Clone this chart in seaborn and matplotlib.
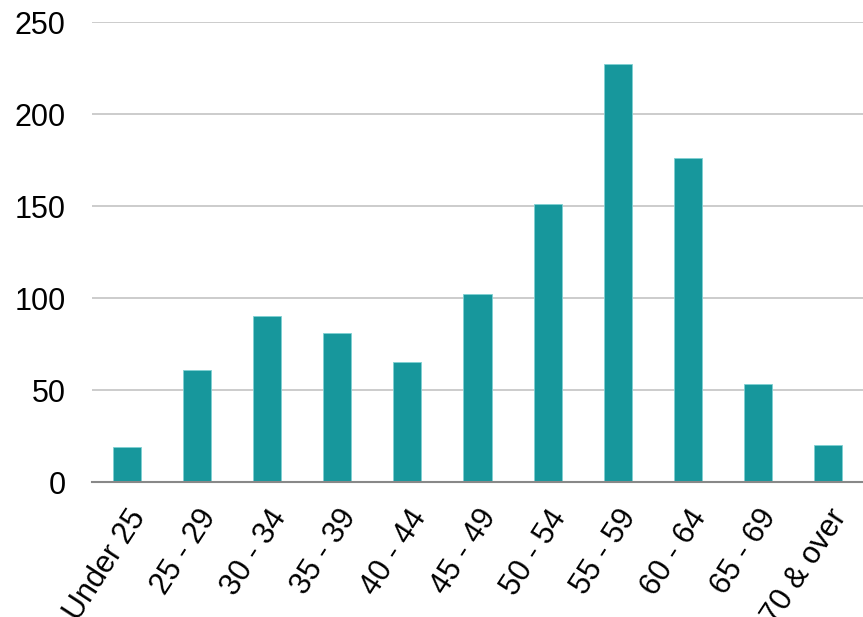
import matplotlib
matplotlib.use("Agg")
import pandas as pd
import seaborn as sns
from matplotlib import pyplot as plt

age_groups = ["Under 25", "25 - 29", "30 - 34", "35 - 39", "40 - 44", "45 - 49",
              "50 - 54", "55 - 59", "60 - 64", "65 - 69", "70 & over"]
counts = [19, 61, 90, 81, 65, 102, 151, 227, 176, 53, 20]
y_ticks = [0, 50, 100, 150, 200, 250]

df = pd.DataFrame({"age": age_groups, "count": counts})

sns.set_style("white")
plt.rcParams['font.family'] = ['Liberation Sans', 'DejaVu Sans']

fig = plt.figure(figsize=(8.63, 6.17), dpi=100)
ax = fig.add_axes([92 / 863, 1 - 482 / 617, 1 - 92 / 863, 460 / 617])

sns.barplot(data=df, x="age", y="count", color="#17979c", width=0.4,
            saturation=1, edgecolor="#7fd0d2", linewidth=0.6, ax=ax, zorder=3)

ax.set_ylim(0, 250)
ax.set_xlim(-0.5, len(age_groups) - 0.5)
ax.set_yticks(y_ticks)
ax.set_yticklabels([str(t) for t in y_ticks], fontsize=22)
ax.yaxis.grid(True, color="#c8c8c8", linewidth=1.3, zorder=0)
ax.set_axisbelow(True)
ax.set_xlabel("")
ax.set_ylabel("")
for s in ["top", "right", "left"]:
    ax.spines[s].set_visible(False)
ax.spines["bottom"].set_color("#888888")
ax.spines["bottom"].set_linewidth(1.5)
ax.spines["bottom"].set_zorder(4)
ax.tick_params(axis="y", length=0, pad=19, labelcolor="black")
ax.tick_params(axis="x", length=0, pad=16, labelcolor="black")
plt.setp(ax.get_xticklabels(), rotation=57, ha="right", rotation_mode="anchor", fontsize=22)

fig.savefig("out.png", dpi=100)
